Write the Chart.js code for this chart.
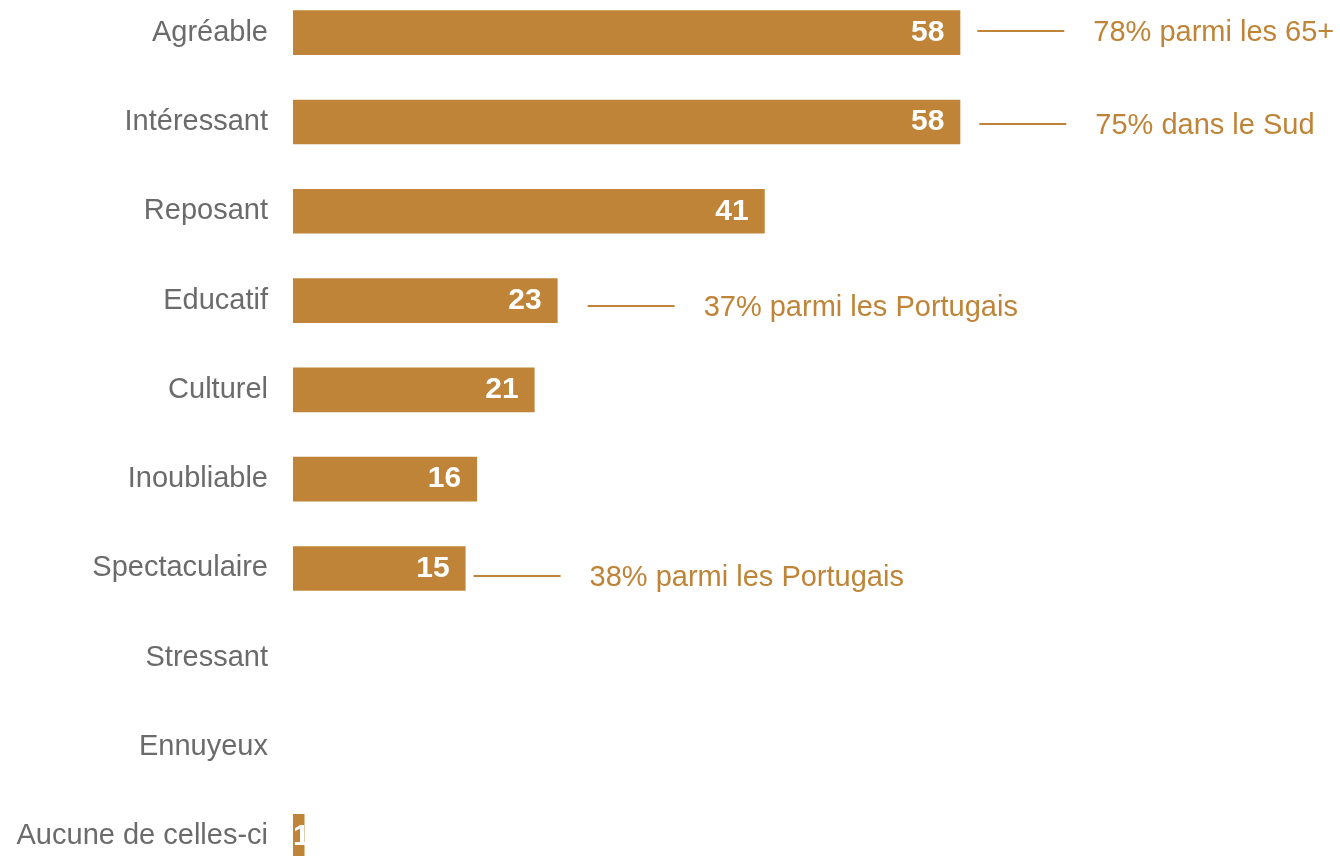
<!DOCTYPE html>
<html lang="fr">
<head>
    <meta charset="UTF-8">
    <title>Qualificatifs</title>
    <script src="https://cdn.jsdelivr.net/npm/chart.js"></script>
    <style>
        html, body { margin: 0; padding: 0; background: #FFFFFF; overflow: hidden; }
        body { width: 1340px; height: 856px; position: relative; }
        .chart-box { position: absolute; left: 0; top: -12px; width: 1340px; height: 893px; }
    </style>
</head>
<body>
    <div class="chart-box">
        <canvas id="qualifChart"></canvas>
    </div>

    <script>
        const categories = ['Agréable', 'Intéressant', 'Reposant', 'Educatif', 'Culturel', 'Inoubliable', 'Spectaculaire', 'Stressant', 'Ennuyeux', 'Aucune de celles-ci'];
        const values = [58, 58, 41, 23, 21, 16, 15, 0, 0, 1];
        const notes = ['78% parmi les 65+', '75% dans le Sud', null, '37% parmi les Portugais', null, null, '38% parmi les Portugais', null, null, null];

        const barColor = '#BF8437';
        const labelGrey = '#6B6B6B';
        const fontFamily = "'Liberation Sans', Arial, sans-serif";

        // white value inside the end of each bar
        const valueLabels = {
            id: 'valueLabels',
            afterDatasetsDraw(chart) {
                const ctx = chart.ctx;
                const meta = chart.getDatasetMeta(0);
                ctx.save();
                ctx.font = 'bold 30px ' + fontFamily;
                ctx.fillStyle = '#FFFFFF';
                ctx.textBaseline = 'middle';
                meta.data.forEach((bar, i) => {
                    const v = values[i];
                    if (!v) return;
                    const txt = String(v);
                    const w = ctx.measureText(txt).width;
                    let right = bar.x - 16;
                    if (right - w < bar.base) right = bar.base + w;
                    ctx.textAlign = 'right';
                    ctx.fillText(txt, right, bar.y);
                });
                ctx.restore();
            }
        };

        // callout line + text next to some bars
        const callouts = {
            id: 'callouts',
            afterDatasetsDraw(chart, args, opts) {
                const ctx = chart.ctx;
                const meta = chart.getDatasetMeta(0);
                ctx.save();
                ctx.strokeStyle = barColor;
                ctx.fillStyle = barColor;
                ctx.lineWidth = 2;
                ctx.font = '29px ' + fontFamily;
                ctx.textBaseline = 'middle';
                ctx.textAlign = 'left';
                meta.data.forEach((bar, i) => {
                    if (!notes[i]) return;
                    const x0 = bar.x + opts.gap[i];
                    const y = Math.round(bar.y + opts.shift[i]);
                    ctx.beginPath();
                    ctx.moveTo(x0, y);
                    ctx.lineTo(x0 + opts.lineLen, y);
                    ctx.stroke();
                    ctx.fillText(notes[i], x0 + opts.lineLen + 29, y + 2);
                });
                ctx.restore();
            }
        };

        new Chart(document.getElementById('qualifChart'), {
            type: 'bar',
            data: {
                labels: categories,
                datasets: [{
                    data: values,
                    backgroundColor: barColor,
                    borderWidth: 0,
                    categoryPercentage: 1,
                    barPercentage: 0.5
                }]
            },
            options: {
                indexAxis: 'y',
                responsive: true,
                maintainAspectRatio: false,
                animation: false,
                layout: { padding: 0 },
                scales: {
                    x: { display: false, min: 0, max: 91 },
                    y: {
                        grid: { display: false, drawTicks: false },
                        border: { display: false },
                        ticks: {
                            color: labelGrey,
                            font: { size: 29, family: fontFamily },
                            padding: 25
                        },
                        afterFit(scale) {
                            scale.width = 293;
                            scale.paddingTop = 0;
                            scale.paddingBottom = 0;
                        }
                    }
                },
                plugins: {
                    legend: { display: false },
                    tooltip: { enabled: false },
                    callouts: {
                        gap: [17, 19, 0, 30, 0, 0, 8, 0, 0, 0],
                        shift: [-2, 2, 0, 5, 0, 0, 8, 0, 0, 0],
                        lineLen: 87
                    }
                }
            },
            plugins: [valueLabels, callouts]
        });
    </script>
</body>
</html>
